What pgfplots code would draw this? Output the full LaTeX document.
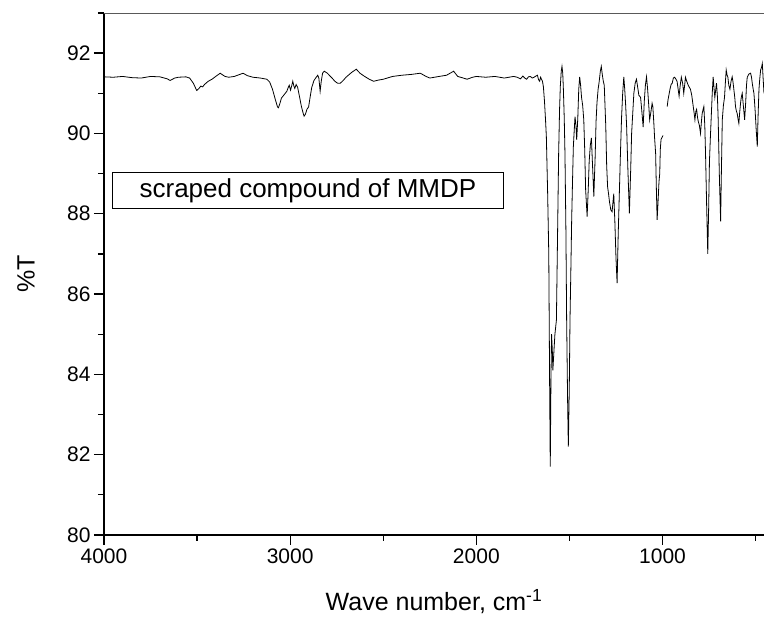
\documentclass[border=0pt]{standalone}
\usepackage{pgfplots}
\pgfplotsset{compat=1.18}
\usepackage{fontspec}
\setmainfont{Liberation Sans}
\begin{document}
\begin{tikzpicture}
\useasboundingbox (-104pt,-83pt) rectangle (660pt,535pt);
\begin{axis}[name=ax,
 at={(0pt,0pt)}, anchor=south west,
 scale only axis, width=660pt, height=522pt,
 x dir=reverse, xmin=455, xmax=4000, ymin=80, ymax=93,
 axis x line*=bottom, axis y line*=left,
 axis line style={line width=1.6pt,-},
 xtick={1000,2000,3000,4000}, minor xtick={500,1500,2500,3500},
 ytick={80,82,...,92}, minor ytick={81,83,...,93},
 tick align=outside, major tick length=10pt, minor tick length=6pt,
 major tick style={black, line width=1.3pt},
 minor tick style={black, line width=1.3pt},
 scaled ticks=false,
 /pgf/number format/1000 sep={},
 /pgf/number format/assume math mode=true,
 tick label style={font=\fontsize{21}{24}\selectfont},
 xlabel={Wave number, cm\textsuperscript{-1}},
 ylabel={\%T},
 label style={font=\fontsize{25}{28}\selectfont},
 xlabel style={at={(axis description cs:0.5,0)}, anchor=base, yshift=-76pt},
 ylabel style={at={(axis description cs:-0.118,0.5)}, anchor=center},
]
\addplot[black, line width=0.8pt] table {
4000 91.41
3950 91.40
3900 91.42
3850 91.39
3800 91.38
3750 91.42
3700 91.41
3660 91.36
3645 91.32
3620 91.38
3600 91.40
3560 91.41
3540 91.38
3520 91.25
3502 91.07
3490 91.12
3480 91.18
3470 91.16
3460 91.22
3440 91.30
3420 91.35
3400 91.42
3376 91.50
3350 91.42
3330 91.40
3300 91.42
3253 91.50
3230 91.44
3200 91.40
3160 91.38
3125 91.35
3110 91.28
3095 91.10
3080 90.85
3068 90.66
3063 90.64
3055 90.75
3047 90.88
3040 90.92
3030 90.98
3018 91.05
3010 91.15
3005 91.20
2998 91.08
2992 91.18
2986 91.30
2980 91.18
2975 91.12
2968 91.22
2960 91.15
2950 90.92
2940 90.68
2930 90.50
2925 90.43
2918 90.48
2910 90.60
2901 90.66
2893 90.90
2884 91.15
2872 91.32
2860 91.40
2852 91.45
2846 91.38
2839 91.05
2833 91.30
2826 91.50
2817 91.55
2800 91.50
2790 91.45
2775 91.38
2760 91.30
2745 91.25
2731 91.25
2715 91.32
2700 91.40
2670 91.52
2645 91.60
2625 91.50
2600 91.42
2575 91.35
2552 91.30
2525 91.33
2500 91.35
2450 91.42
2400 91.45
2350 91.47
2301 91.50
2270 91.42
2250 91.38
2200 91.42
2160 91.45
2122 91.55
2100 91.42
2070 91.38
2050 91.35
2020 91.40
2000 91.42
1950 91.40
1900 91.42
1850 91.38
1800 91.42
1780 91.40
1763 91.36
1750 91.43
1740 91.38
1730 91.35
1720 91.41
1710 91.42
1700 91.38
1690 91.40
1680 91.43
1672 91.45
1666 91.34
1660 91.30
1655 91.40
1650 91.35
1645 91.30
1640 91.17
1634 90.80
1628 90.30
1624 89.92
1617 88.50
1611 87.00
1606 83.50
1603 81.70
1599 84.00
1596 85.00
1592 84.60
1589 84.10
1583 84.60
1578 85.00
1570 85.35
1564 87.40
1558 89.50
1553 90.60
1549 91.17
1544 91.55
1540 91.67
1536 91.50
1533 91.17
1528 90.40
1524 89.50
1519 87.60
1515 85.35
1510 83.40
1506 82.20
1501 83.60
1497 85.35
1492 86.70
1488 87.85
1483 88.90
1479 89.67
1474 90.10
1470 90.42
1465 90.20
1461 89.84
1455 90.40
1450 91.10
1445 91.41
1440 91.20
1435 90.90
1429 90.70
1423 90.34
1418 89.60
1413 88.60
1405 87.93
1399 88.60
1394 89.30
1388 89.70
1382 89.89
1375 89.10
1369 88.43
1362 89.40
1357 90.30
1352 90.77
1346 91.10
1340 91.30
1334 91.55
1329 91.67
1323 91.45
1318 91.30
1313 91.20
1305 90.20
1300 89.20
1295 88.67
1290 88.50
1285 88.30
1278 88.10
1271 88.05
1266 88.30
1262 88.50
1256 87.80
1250 86.90
1244 86.27
1238 87.50
1232 88.50
1226 89.51
1220 90.40
1214 91.00
1208 91.41
1203 91.10
1198 90.70
1193 90.20
1186 89.10
1178 88.01
1171 89.10
1166 90.00
1160 90.50
1154 91.00
1147 91.25
1140 91.35
1135 91.20
1127 90.95
1118 90.90
1112 90.60
1104 90.16
1098 90.80
1092 91.20
1086 91.41
1080 91.10
1074 90.70
1069 90.34
1062 90.55
1056 90.75
1052 90.67
1046 90.20
1043 89.92
1037 89.50
1033 88.60
1029 87.85
1024 88.30
1019 88.80
1015 89.00
1012 89.60
1008 89.85
1003 89.90
997 89.95
};
\addplot[black, line width=0.8pt] table {
975 90.67
970 90.85
966 90.95
960 91.10
954 91.22
948 91.25
942 91.38
935 91.40
928 91.35
922 91.30
916 91.10
911 90.93
905 91.20
899 91.40
892 91.25
886 91.00
880 91.25
877 91.40
870 91.30
862 91.20
856 91.15
850 91.10
843 90.95
835 90.67
830 90.50
826 90.34
821 90.55
817 90.60
812 90.40
808 90.30
802 90.20
796 90.00
791 90.30
787 90.50
782 90.60
778 90.67
773 90.20
769 89.50
763 88.20
757 87.00
752 88.20
748 89.30
743 89.90
739 90.34
733 91.00
728 91.41
723 91.10
719 90.90
714 91.10
710 91.25
705 90.90
701 90.34
695 89.00
688 87.81
684 89.00
679 90.34
673 90.70
667 90.90
662 91.30
658 91.58
653 91.45
649 91.40
644 91.20
638 91.10
632 91.30
626 91.41
622 91.30
617 91.10
612 90.90
608 90.67
603 90.55
599 90.50
594 90.35
590 90.25
586 90.50
581 90.75
577 90.90
572 91.00
566 90.70
559 90.34
553 90.80
549 91.20
545 91.40
536 91.48
527 91.50
522 91.40
518 91.25
513 91.10
509 91.00
503 90.60
497 90.10
491 89.67
487 90.40
482 91.10
477 91.40
473 91.58
468 91.65
464 91.74
460 91.40
455 91.00
};
\end{axis}
\draw[gray!70!black, line width=0.6pt] (ax.north west) -- (ax.north east);
\node[draw=black, line width=0.9pt, minimum width=391pt, minimum height=36pt, inner sep=0pt, anchor=north west,
 font=\fontsize{26}{30}\selectfont] at ([xshift=8pt, yshift=-159pt]ax.north west) {scraped compound of MMDP};
\end{tikzpicture}
\end{document}
